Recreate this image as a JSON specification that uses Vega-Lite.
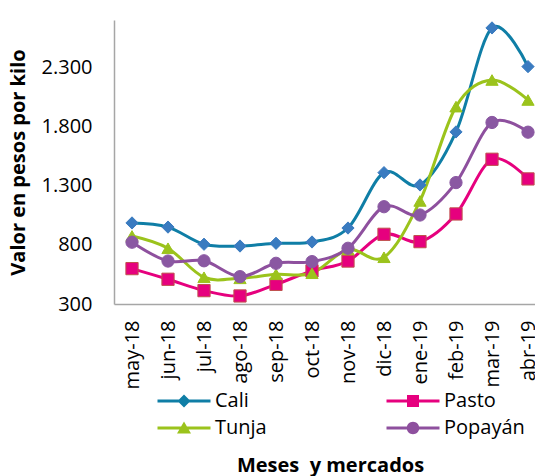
{
  "$schema": "https://vega.github.io/schema/vega-lite/v6.json",
  "autosize": {"type": "none"},
  "padding": {"left": 114, "top": 20, "right": 0, "bottom": 172},
  "width": 432,
  "height": 284,
  "background": "white",
  "config": {
    "view": {"stroke": null},
    "font": "Open Sans",
    "axis": {"labelFont": "Open Sans", "titleFont": "Open Sans", "labelColor": "#000", "titleColor": "#000"},
    "legend": {"labelFont": "Open Sans", "labelColor": "#000"}
  },
  "data": {"values": [
    {"mes": "may-18", "ciudad": "Cali", "valor": 985},
    {"mes": "jun-18", "ciudad": "Cali", "valor": 950},
    {"mes": "jul-18", "ciudad": "Cali", "valor": 805},
    {"mes": "ago-18", "ciudad": "Cali", "valor": 790},
    {"mes": "sep-18", "ciudad": "Cali", "valor": 813},
    {"mes": "oct-18", "ciudad": "Cali", "valor": 824},
    {"mes": "nov-18", "ciudad": "Cali", "valor": 942},
    {"mes": "dic-18", "ciudad": "Cali", "valor": 1410},
    {"mes": "ene-19", "ciudad": "Cali", "valor": 1306},
    {"mes": "feb-19", "ciudad": "Cali", "valor": 1754},
    {"mes": "mar-19", "ciudad": "Cali", "valor": 2633},
    {"mes": "abr-19", "ciudad": "Cali", "valor": 2306},
    {"mes": "may-18", "ciudad": "Pasto", "valor": 599},
    {"mes": "jun-18", "ciudad": "Pasto", "valor": 509},
    {"mes": "jul-18", "ciudad": "Pasto", "valor": 413},
    {"mes": "ago-18", "ciudad": "Pasto", "valor": 368},
    {"mes": "sep-18", "ciudad": "Pasto", "valor": 466},
    {"mes": "oct-18", "ciudad": "Pasto", "valor": 580},
    {"mes": "nov-18", "ciudad": "Pasto", "valor": 663},
    {"mes": "dic-18", "ciudad": "Pasto", "valor": 889},
    {"mes": "ene-19", "ciudad": "Pasto", "valor": 827},
    {"mes": "feb-19", "ciudad": "Pasto", "valor": 1061},
    {"mes": "mar-19", "ciudad": "Pasto", "valor": 1523},
    {"mes": "abr-19", "ciudad": "Pasto", "valor": 1357},
    {"mes": "may-18", "ciudad": "Tunja", "valor": 875},
    {"mes": "jun-18", "ciudad": "Tunja", "valor": 771},
    {"mes": "jul-18", "ciudad": "Tunja", "valor": 526},
    {"mes": "ago-18", "ciudad": "Tunja", "valor": 517},
    {"mes": "sep-18", "ciudad": "Tunja", "valor": 551},
    {"mes": "oct-18", "ciudad": "Tunja", "valor": 560},
    {"mes": "nov-18", "ciudad": "Tunja", "valor": 760},
    {"mes": "dic-18", "ciudad": "Tunja", "valor": 695},
    {"mes": "ene-19", "ciudad": "Tunja", "valor": 1171},
    {"mes": "feb-19", "ciudad": "Tunja", "valor": 1968},
    {"mes": "mar-19", "ciudad": "Tunja", "valor": 2193},
    {"mes": "abr-19", "ciudad": "Tunja", "valor": 2024},
    {"mes": "may-18", "ciudad": "Popayán", "valor": 822},
    {"mes": "jun-18", "ciudad": "Popayán", "valor": 663},
    {"mes": "jul-18", "ciudad": "Popayán", "valor": 665},
    {"mes": "ago-18", "ciudad": "Popayán", "valor": 531},
    {"mes": "sep-18", "ciudad": "Popayán", "valor": 644},
    {"mes": "oct-18", "ciudad": "Popayán", "valor": 658},
    {"mes": "nov-18", "ciudad": "Popayán", "valor": 771},
    {"mes": "dic-18", "ciudad": "Popayán", "valor": 1122},
    {"mes": "ene-19", "ciudad": "Popayán", "valor": 1052},
    {"mes": "feb-19", "ciudad": "Popayán", "valor": 1326},
    {"mes": "mar-19", "ciudad": "Popayán", "valor": 1834},
    {"mes": "abr-19", "ciudad": "Popayán", "valor": 1752}
  ]},
  "encoding": {
    "x": {
      "field": "mes", "type": "ordinal",
      "sort": ["may-18","jun-18","jul-18","ago-18","sep-18","oct-18","nov-18","dic-18","ene-19","feb-19","mar-19","abr-19"],
      "scale": {"type": "point", "padding": 0.5},
      "axis": {
        "title": "Meses\u00a0 y mercados",
        "titleFontSize": 20, "titleFontWeight": "bold",
        "titleY": 167, "titleBaseline": "alphabetic",
        "labelAngle": -90, "labelFontSize": 20, "labelPadding": 16,
        "labelAlign": "right", "labelBaseline": "middle",
        "ticks": false, "grid": false,
        "domainColor": "#A6A6A6", "domainWidth": 1.5
      }
    },
    "y": {
      "field": "valor", "type": "quantitative",
      "scale": {"domain": [300, 2700], "nice": false, "zero": false},
      "axis": {
        "title": "Valor en pesos por kilo",
        "values": [300, 800, 1300, 1800, 2300],
        "format": ",d",
        "labelExpr": "replace(datum.label, ',', '.')",
        "labelFontSize": 20, "labelPadding": 22,
        "titleFontSize": 20, "titleFontWeight": "bold",
        "titleX": -90, "titleY": 142, "titleAngle": 270,
        "titleAlign": "center", "titleBaseline": "alphabetic",
        "ticks": false, "grid": false,
        "domainColor": "#A6A6A6", "domainWidth": 1.5
      }
    }
  },
  "resolve": {"legend": {"color": "independent"}},
  "layer": [
    {
      "mark": {"type": "line", "interpolate": "cardinal", "tension": 0, "strokeWidth": 3},
      "encoding": {
        "color": {
          "field": "ciudad", "type": "nominal",
          "scale": {"domain": ["Cali", "Pasto", "Tunja", "Popayán"], "range": ["#0F7EA6", "#E6007E", "#9BC31C", "#8E509E"]},
          "legend": {
            "title": null,
            "orient": "none", "legendX": 60, "legendY": 371,
            "direction": "horizontal",
            "columns": 2, "columnPadding": 119, "rowPadding": 7,
            "labelFontSize": 20, "labelOffset": 21,
            "symbolSize": 100, "symbolStrokeWidth": 0, "symbolOpacity": 1,
            "encode": {"symbols": {"update": {
              "shape": {"signal": "datum.value === 'Cali' ? 'M-5.3,-0.3H5.3V0.3H-5.3Z M0,-1.3L1.3,0L0,1.3L-1.3,0Z' : datum.value === 'Pasto' ? 'M-5.3,-0.3H5.3V0.3H-5.3Z M-1.2,-1.2H1.2V1.2H-1.2Z' : datum.value === 'Tunja' ? 'M-5.3,-0.3H5.3V0.3H-5.3Z M0,-1.3L1.4,1.1L-1.4,1.1Z' : 'M-5.3,-0.3H5.3V0.3H-5.3Z M-1.25,0A1.25,1.25,0,1,1,1.25,0A1.25,1.25,0,1,1,-1.25,0Z'"},
              "fill": {"scale": "color", "field": "value"},
              "strokeWidth": {"value": 0},
              "opacity": {"value": 1}
            }}}
          }
        }
      }
    },
    {
      "mark": {"type": "point", "filled": true, "opacity": 1, "size": 150, "strokeWidth": 1},
      "encoding": {
        "fill": {
          "field": "ciudad", "type": "nominal",
          "scale": {"domain": ["Cali", "Pasto", "Tunja", "Popayán"], "range": ["#3A7BC0", "#E6007E", "#9BC31C", "#8A58A2"]},
          "legend": null
        },
        "stroke": {
          "field": "ciudad", "type": "nominal",
          "scale": {"domain": ["Cali", "Pasto", "Tunja", "Popayán"], "range": ["#3A7BC0", "#C0504D", "#9BC31C", "#8A58A2"]},
          "legend": null
        },
        "shape": {
          "field": "ciudad", "type": "nominal",
          "scale": {"domain": ["Cali", "Pasto", "Tunja", "Popayán"], "range": ["diamond", "square", "triangle-up", "circle"]},
          "legend": null
        }
      }
    }
  ]
}
